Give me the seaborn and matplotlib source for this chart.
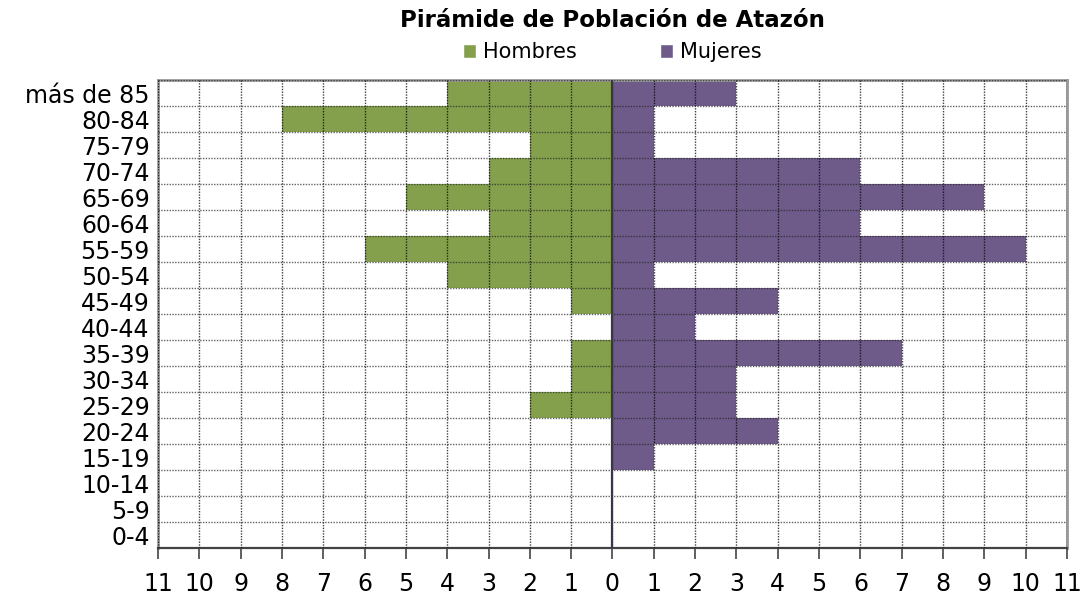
import numpy as np
import pandas as pd
import matplotlib
matplotlib.use("Agg")
import matplotlib.pyplot as plt
from matplotlib.patches import Patch
from matplotlib.ticker import FixedLocator
import seaborn as sns

# datos de la piramide (de arriba hacia abajo)
grupos = ["más de 85", "80-84", "75-79", "70-74", "65-69", "60-64", "55-59",
          "50-54", "45-49", "40-44", "35-39", "30-34", "25-29", "20-24",
          "15-19", "10-14", "5-9", "0-4"]
hombres = [4, 8, 2, 3, 5, 3, 6, 4, 1, 0, 1, 1, 2, 0, 0, 0, 0, 0]
mujeres = [3, 1, 1, 6, 9, 6, 10, 1, 4, 2, 7, 3, 3, 4, 1, 0, 0, 0]
ticks_x = list(range(-11, 12))

verde = "#84A04D"
morado = "#6E5B8A"

sns.set_style("white")
plt.rcParams["font.family"] = ["DejaVu Sans"]
plt.rcParams["text.color"] = "black"
plt.rcParams["xtick.color"] = "black"
plt.rcParams["ytick.color"] = "black"

df = pd.DataFrame({"grupo": grupos,
                   "hombres": [-v for v in hombres],
                   "mujeres": mujeres})

fig = plt.figure(figsize=(10.88, 5.99), dpi=100)
ax = fig.add_axes([0.1452, 0.0851, 0.8355, 0.7813])

sns.barplot(data=df, x="hombres", y="grupo", order=grupos, color=verde,
            width=1.0, saturation=1, linewidth=0, ax=ax)
sns.barplot(data=df, x="mujeres", y="grupo", order=grupos, color=morado,
            width=1.0, saturation=1, linewidth=0, ax=ax)

ax.set_xlim(-11, 11)
ax.set_ylim(len(grupos) - 0.5, -0.5)
ax.set_xticks(ticks_x)
ax.set_xticklabels([str(abs(t)) for t in ticks_x], fontsize=17)
ax.set_yticks(range(len(grupos)))
ax.set_yticklabels(grupos, fontsize=17)
ax.yaxis.set_minor_locator(FixedLocator(np.arange(-0.5, len(grupos), 1.0)))
ax.set_xlabel("")
ax.set_ylabel("")

# rejilla punteada por encima de las barras
ax.set_axisbelow(False)
ax.grid(axis="x", which="major", color="#000000", linestyle=(0, (1, 1)),
        linewidth=1.0, alpha=0.75)
ax.grid(axis="y", which="minor", color="#222222", linestyle=(0, (1, 1)),
        linewidth=1.0, alpha=0.7)
ax.grid(axis="y", which="major", visible=False)
ax.axvline(0, color="#3c3448", linewidth=1.6, zorder=5)

ax.tick_params(axis="x", which="major", direction="out", length=8,
               width=1.2, color="#444444", pad=9, bottom=True,
               labelcolor="black")
ax.tick_params(axis="y", which="both", length=0, pad=6, labelcolor="black")

for lado in ["left", "top", "right"]:
    ax.spines[lado].set_color("#999999")
    ax.spines[lado].set_linewidth(2)
ax.spines["bottom"].set_color("#444444")
ax.spines["bottom"].set_linewidth(1.6)

fig.suptitle("Pirámide de Población de Atazón", fontsize=16.5,
             fontweight="bold", x=0.5625, y=0.985, va="top", color="black")

handles = [Patch(facecolor=verde, label="Hombres"),
           Patch(facecolor=morado, label="Mujeres")]
fig.legend(handles=handles, loc="center", ncol=2,
           bbox_to_anchor=(0.5625, 1 - 52 / 599), frameon=False,
           fontsize=15, handlelength=0.65, handleheight=0.65,
           handletextpad=0.3, columnspacing=4.0, labelcolor="black")

fig.savefig("out.png", dpi=100)
